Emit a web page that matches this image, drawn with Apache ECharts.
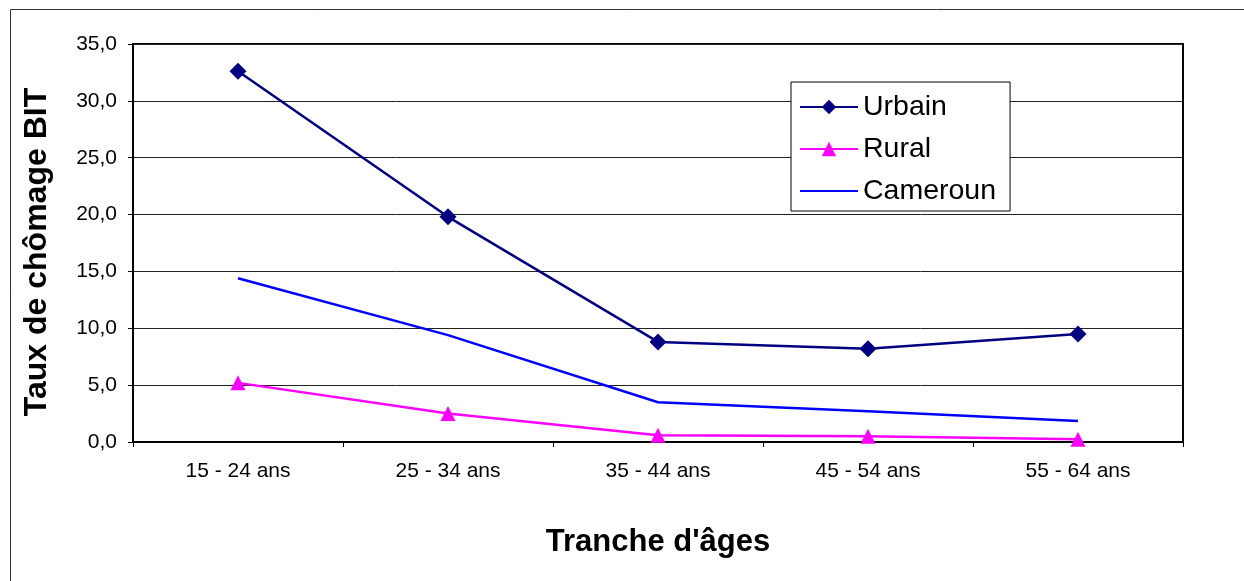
<!DOCTYPE html>
<html>
<head>
<meta charset="utf-8">
<script src="https://cdn.jsdelivr.net/npm/echarts@6/dist/echarts.min.js"></script>
<style>
html,body{margin:0;padding:0;background:#fff;}
#chart{width:1244px;height:581px;}
</style>
</head>
<body>
<div id="chart"></div>
<script>
var categories = ['15 - 24 ans', '25 - 34 ans', '35 - 44 ans', '45 - 54 ans', '55 - 64 ans'];
var urbain = [32.6, 19.8, 8.8, 8.2, 9.5];
var rural = [5.2, 2.5, 0.6, 0.5, 0.25];
var cameroun = [14.4, 9.4, 3.5, 2.7, 1.85];
var yTicks = [0, 5, 10, 15, 20, 25, 30, 35];

var chart = echarts.init(document.getElementById('chart'), null, {renderer: 'canvas'});
var font = 'Arial, "Liberation Sans", sans-serif';
chart.setOption({
  animation: false,
  backgroundColor: '#fff',
  textStyle: {fontFamily: font},
  graphic: [{
    type: 'rect',
    shape: {x: 10.5, y: 9.5, width: 1400, height: 800},
    style: {fill: 'none', stroke: '#333', lineWidth: 1},
    silent: true
  }],
  grid: {
    left: 133, right: 61, top: 44, bottom: 139,
    show: true, borderColor: '#000', borderWidth: 2, backgroundColor: 'transparent'
  },
  legend: {
    orient: 'vertical',
    left: 791, top: 82,
    padding: [10, 14, 5, 8],
    itemGap: 12,
    itemWidth: 58,
    itemHeight: 18,
    borderColor: '#000',
    borderWidth: 1,
    backgroundColor: '#fff',
    textStyle: {fontSize: 28.5, lineHeight: 30, color: '#000', fontFamily: font},
    data: ['Urbain', 'Rural', {name: 'Cameroun', itemStyle: {opacity: 0}}]
  },
  xAxis: {
    type: 'category',
    data: categories,
    boundaryGap: true,
    name: "Tranche d'âges",
    nameLocation: 'middle',
    nameGap: 85,
    nameTextStyle: {fontSize: 31, fontWeight: 'bold', color: '#000', fontFamily: font},
    axisLine: {lineStyle: {color: '#000', width: 2}},
    axisTick: {show: true, length: 5, alignWithLabel: false, lineStyle: {color: '#000', width: 1}},
    axisLabel: {fontSize: 21, color: '#000', margin: 19, fontFamily: font},
    splitLine: {show: false}
  },
  yAxis: {
    type: 'value',
    min: yTicks[0],
    max: yTicks[yTicks.length - 1],
    interval: 5,
    name: 'Taux de chômage BIT',
    nameLocation: 'middle',
    nameRotate: 90,
    nameGap: 80,
    nameTextStyle: {fontSize: 32, fontWeight: 'bold', color: '#000', fontFamily: font, padding: [0, 18, 0, 0]},
    axisLine: {show: true, lineStyle: {color: '#000', width: 2}},
    axisTick: {show: true, length: 5, lineStyle: {color: '#000', width: 1}},
    axisLabel: {
      fontSize: 21, color: '#000', margin: 16, fontFamily: font,
      formatter: function (v) { return v.toFixed(1).replace('.', ','); }
    },
    splitLine: {show: true, lineStyle: {color: '#222', width: 1}}
  },
  series: [{
    name: 'Urbain',
    type: 'line',
    data: urbain,
    symbol: 'diamond',
    symbolSize: 17,
    lineStyle: {color: '#000080', width: 2.5},
    itemStyle: {color: '#000080'},
    z: 5
  }, {
    name: 'Rural',
    type: 'line',
    data: rural,
    symbol: 'triangle',
    symbolSize: 15,
    lineStyle: {color: '#FF00FF', width: 2.5},
    itemStyle: {color: '#FF00FF'},
    z: 4
  }, {
    name: 'Cameroun',
    type: 'line',
    data: cameroun,
    symbol: 'none',
    lineStyle: {color: '#0000FF', width: 2.5},
    itemStyle: {color: '#0000FF'},
    z: 3
  }]
});
</script>
</body>
</html>
